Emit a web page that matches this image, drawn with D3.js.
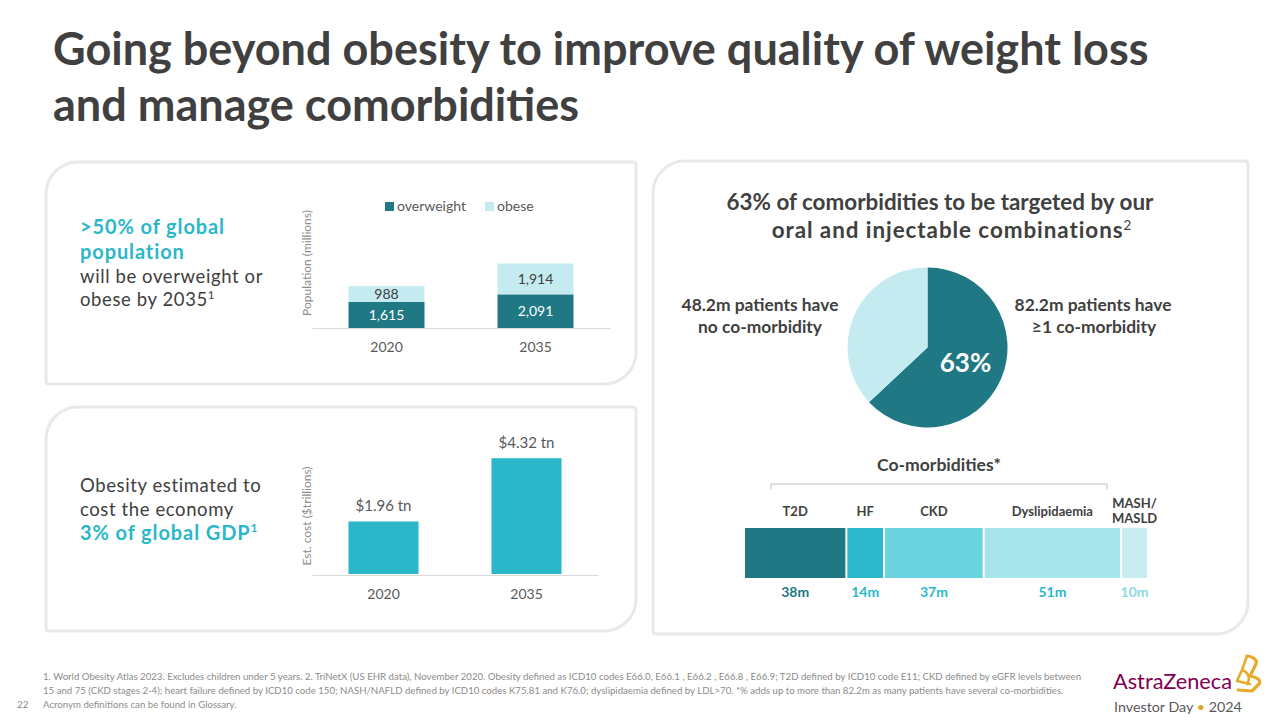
<!DOCTYPE html>
<html>
<head>
<meta charset="utf-8">
<script src="https://cdn.jsdelivr.net/npm/d3@7"></script>
<style>
  html, body { margin: 0; padding: 0; background: #ffffff; }
  svg { display: block; font-family: Lato, "Open Sans", sans-serif; }
</style>
</head>
<body>
<svg id="chart" width="1280" height="720"></svg>
<script>
// ---------------- DATA ----------------
const titleLines = ["Going beyond obesity to improve quality of weight loss", "and manage comorbidities"];

const popYears = ["2020", "2035"];
const popSeries = ["overweight", "obese"];
const overweightValues = [1615, 2091];
const obeseValues = [988, 1914];

const costYears = ["2020", "2035"];
const costValues = [1.96, 4.32];
const costLabels = ["$1.96 tn", "$4.32 tn"];

const pieCategories = [">=1 co-morbidity", "no co-morbidity"];
const pieValues = [82.2, 48.2];
const piePctLabel = "63%";

const comorbCategories = ["T2D", "HF", "CKD", "Dyslipidaemia", "MASH/MASLD"];
const comorbValues = [38, 14, 37, 51, 10];
const comorbValueLabels = ["38m", "14m", "37m", "51m", "10m"];

const footnotes = [
  "1. World Obesity Atlas 2023. Excludes children under 5 years. 2. TriNetX (US EHR data), November 2020. Obesity defined as ICD10 codes E66.0, E66.1 , E66.2 , E66.8 , E66.9; T2D defined by ICD10 code E11; CKD defined by eGFR levels between",
  "15 and 75 (CKD stages 2-4); heart failure defined by ICD10 code 150; NASH/NAFLD defined by ICD10 codes K75.81 and K76.0; dyslipidaemia defined by LDL>70. *% adds up to more than 82.2m as many patients have several co-morbidities.",
  "Acronym definitions can be found in Glossary."
];

// ---------------- STYLE ----------------
const C = {
  dark: "#404040",
  axis: "#595959",
  ytitle: "#8c8c8c",
  teal: "#2bb7c9",
  darkTeal: "#1f7883",
  lightTeal: "#c4ecf0",
  panelStroke: "#e9e9e9",
  segColors: ["#1f7883", "#2bb8ca", "#69d3df", "#a7e4eb", "#c8edf1"],
  segLabelColors: ["#1f7883", "#2bb8ca", "#2bb8ca", "#2bb8ca", "#8dd8e2"]
};

const svg = d3.select("#chart");

function fit(sel, target) {
  const n = sel.node();
  const fs = parseFloat(sel.attr("font-size"));
  const len = n.getComputedTextLength();
  const nf = fs * target / len;
  sel.attr("font-size", nf);
  return nf;
}
function spaceTo(sel, target) {
  const n = sel.node();
  const len = n.getComputedTextLength();
  const chars = sel.text().length;
  const ls = (target - len) / chars;
  sel.attr("letter-spacing", ls);
  return ls;
}

function panelPath(x, y, w, h, rb, rs) {
  return `M${x + rb},${y} H${x + w - rs} Q${x + w},${y} ${x + w},${y + rs} V${y + h - rb} ` +
    `A${rb},${rb} 0 0 1 ${x + w - rb},${y + h} H${x + rs} Q${x},${y + h} ${x},${y + h - rs} V${y + rb} ` +
    `A${rb},${rb} 0 0 1 ${x + rb},${y} Z`;
}

// ---------------- TITLE ----------------
const t1 = svg.append("text").attr("x", 53).attr("y", 65).attr("font-size", 40)
  .attr("font-weight", 700).attr("fill", C.dark).text(titleLines[0]);
const tfs = fit(t1, 1096);
svg.append("text").attr("x", 53).attr("y", 121).attr("font-size", tfs)
  .attr("font-weight", 700).attr("fill", C.dark).text(titleLines[1]);

// ---------------- PANELS ----------------
const panels = [
  { x: 46, y: 162, w: 590, h: 222 },
  { x: 46, y: 407, w: 590, h: 224 },
  { x: 653, y: 161, w: 595, h: 473 }
];
svg.selectAll("path.panel").data(panels).join("path").attr("class", "panel")
  .attr("d", d => panelPath(d.x, d.y, d.w, d.h, 32, 3))
  .attr("fill", "#fff").attr("stroke", C.panelStroke).attr("stroke-width", 3);

// ---------------- PANEL 1 TEXT ----------------
const bigFs = 20;
const regFs = 18.5;
const p1a = svg.append("text").attr("x", 80).attr("y", 234).attr("font-size", bigFs)
  .attr("font-weight", 700).attr("fill", C.teal).text(">50% of global");
const bigLs = spaceTo(p1a, 145);
svg.append("text").attr("x", 80).attr("y", 259).attr("font-size", bigFs).attr("letter-spacing", bigLs)
  .attr("font-weight", 700).attr("fill", C.teal).text("population");
const p1c = svg.append("text").attr("x", 80).attr("y", 283).attr("font-size", regFs)
  .attr("fill", C.dark).text("will be overweight or");
const regLs = spaceTo(p1c, 183);
const p1d = svg.append("text").attr("x", 80).attr("y", 306).attr("font-size", regFs)
  .attr("fill", C.dark).attr("letter-spacing", regLs);
p1d.append("tspan").text("obese by 2035");
p1d.append("tspan").attr("dy", -7).attr("font-size", regFs * 0.62).text("1");

// ---------------- PANEL 1 CHART ----------------
const x1 = d3.scaleBand().domain(popYears).range([312, 610]).paddingInner(0.49).paddingOuter(0.245);
const y1 = d3.scaleLinear().domain([0, 5000]).range([328, 247.5]);
const stackData = popYears.map((yr, i) => ({ year: yr, overweight: overweightValues[i], obese: obeseValues[i] }));
const stacks = d3.stack().keys(popSeries)(stackData);
const popColors = d3.scaleOrdinal().domain(popSeries).range([C.darkTeal, C.lightTeal]);

const g1 = svg.append("g");
g1.selectAll("g.layer").data(stacks).join("g").attr("class", "layer")
  .attr("fill", d => popColors(d.key))
  .selectAll("rect").data(d => d).join("rect")
  .attr("x", d => x1(d.data.year)).attr("width", x1.bandwidth())
  .attr("y", d => y1(d[1])).attr("height", d => y1(d[0]) - y1(d[1]));

g1.selectAll("g.lbl").data(stacks).join("g").attr("class", "lbl")
  .attr("fill", d => d.key === "overweight" ? "#ffffff" : C.dark)
  .selectAll("text").data(d => d).join("text")
  .attr("x", d => x1(d.data.year) + x1.bandwidth() / 2)
  .attr("y", d => (y1(d[0]) + y1(d[1])) / 2 + 5)
  .attr("text-anchor", "middle").attr("font-size", 14)
  .text(d => d3.format(",")(d[1] - d[0]));

const ax1 = g1.append("g").attr("transform", "translate(0,328)")
  .call(d3.axisBottom(x1).tickSize(0).tickPadding(14));
ax1.select(".domain").attr("stroke", "#d9d9d9").attr("stroke-width", 1);
ax1.selectAll("text").attr("font-size", 14).attr("fill", C.axis).attr("font-family", "Lato, sans-serif");

svg.append("text").attr("transform", "translate(311,263) rotate(-90)")
  .attr("text-anchor", "middle").attr("font-size", 12).attr("fill", C.ytitle)
  .text("Population (millions)");

// legend
const leg = svg.append("g").selectAll("g").data(popSeries).join("g")
  .attr("transform", (d, i) => `translate(${i === 0 ? 385 : 485},202)`);
leg.append("rect").attr("width", 9).attr("height", 9).attr("fill", d => popColors(d));
leg.append("text").attr("x", 12).attr("y", 9).attr("font-size", 14).attr("fill", C.axis).text(d => d);

// ---------------- PANEL 2 TEXT ----------------
svg.append("text").attr("x", 80).attr("y", 492).attr("font-size", regFs).attr("fill", C.dark)
  .attr("letter-spacing", regLs).text("Obesity estimated to");
svg.append("text").attr("x", 80).attr("y", 516).attr("font-size", regFs).attr("fill", C.dark)
  .attr("letter-spacing", regLs).text("cost the economy");
const p2c = svg.append("text").attr("x", 80).attr("y", 540).attr("font-size", bigFs)
  .attr("font-weight", 700).attr("fill", C.teal).attr("letter-spacing", bigLs);
p2c.append("tspan").text("3% of global GDP");
p2c.append("tspan").attr("dy", -8).attr("font-size", bigFs * 0.6).text("1");

// ---------------- PANEL 2 CHART ----------------
const x2 = d3.scaleBand().domain(costYears).range([312, 598]).paddingInner(0.51).paddingOuter(0.255);
const y2 = d3.scaleLinear().domain([0, 5]).range([574, 440]);
const g2 = svg.append("g");
g2.selectAll("rect").data(costValues).join("rect")
  .attr("x", (d, i) => x2(costYears[i])).attr("width", x2.bandwidth())
  .attr("y", d => y2(d)).attr("height", d => y2(0) - y2(d)).attr("fill", C.teal);
g2.selectAll("text.val").data(costValues).join("text").attr("class", "val")
  .attr("x", (d, i) => x2(costYears[i]) + x2.bandwidth() / 2)
  .attr("y", d => y2(d) - 10).attr("text-anchor", "middle")
  .attr("font-size", 15).attr("fill", C.axis).text((d, i) => costLabels[i]);
const ax2 = g2.append("g").attr("transform", "translate(0,575)")
  .call(d3.axisBottom(x2).tickSize(0).tickPadding(14));
ax2.select(".domain").attr("stroke", "#d9d9d9").attr("stroke-width", 1);
ax2.selectAll("text").attr("font-size", 14).attr("fill", C.axis).attr("font-family", "Lato, sans-serif");
svg.append("text").attr("transform", "translate(311,516) rotate(-90)")
  .attr("text-anchor", "middle").attr("font-size", 12).attr("fill", C.ytitle)
  .text("Est. cost ($trillions)");

// ---------------- PANEL 3 ----------------
const h3a = svg.append("text").attr("x", 940).attr("y", 210).attr("text-anchor", "middle")
  .attr("font-size", 21).attr("font-weight", 700).attr("fill", C.dark)
  .text("63% of comorbidities to be targeted by our");
const h3fs = fit(h3a, 427);
const h3b = svg.append("text").attr("x", 952).attr("y", 238).attr("text-anchor", "middle")
  .attr("font-size", h3fs).attr("font-weight", 700).attr("fill", C.dark);
h3b.append("tspan").text("oral and injectable combinations");
h3b.append("tspan").attr("dy", -8).attr("font-size", h3fs * 0.6).attr("font-weight", 400).text("2");
h3b.attr("letter-spacing", Math.max(0, (361 - h3b.node().getComputedTextLength()) / 33));

// pie
const pie = d3.pie().sort(null).value(d => d)(pieValues);
const arc = d3.arc().innerRadius(0).outerRadius(80);
const pieG = svg.append("g").attr("transform", "translate(927.5,347.5)");
pieG.selectAll("path").data(pie).join("path").attr("d", arc)
  .attr("fill", (d, i) => i === 0 ? C.darkTeal : C.lightTeal);
pieG.append("text").attr("x", 38).attr("y", 24).attr("text-anchor", "middle")
  .attr("font-size", 26).attr("font-weight", 700).attr("fill", "#fff").text(piePctLabel);

const pl1 = svg.append("text").attr("x", 760).attr("y", 311).attr("text-anchor", "middle")
  .attr("font-size", 16).attr("font-weight", 700).attr("fill", C.dark).text("48.2m patients have");
const plfs = fit(pl1, 157);
svg.append("text").attr("x", 760).attr("y", 333).attr("text-anchor", "middle")
  .attr("font-size", plfs).attr("font-weight", 700).attr("fill", C.dark).text("no co-morbidity");
svg.append("text").attr("x", 1093).attr("y", 311).attr("text-anchor", "middle")
  .attr("font-size", plfs).attr("font-weight", 700).attr("fill", C.dark).text("82.2m patients have");
svg.append("text").attr("x", 1094).attr("y", 333).attr("text-anchor", "middle")
  .attr("font-size", plfs).attr("font-weight", 700).attr("fill", C.dark).text("\u22651 co-morbidity");

// co-morbidities
const cm = svg.append("text").attr("x", 939).attr("y", 471).attr("text-anchor", "middle")
  .attr("font-size", 16).attr("font-weight", 700).attr("fill", C.dark).text("Co-morbidities*");
fit(cm, 124);
svg.append("path").attr("d", "M771,489 V484 H1107 V489").attr("fill", "none")
  .attr("stroke", "#bfbfbf").attr("stroke-width", 1);

const xs = d3.scaleLinear().domain([0, d3.sum(comorbValues)]).range([745, 1149]);
let cum = 0;
const segs = comorbValues.map((v, i) => { const s = { cat: comorbCategories[i], v, start: cum, end: cum + v, i }; cum += v; return s; });
const sg = svg.append("g");
sg.selectAll("rect").data(segs).join("rect")
  .attr("x", d => xs(d.start)).attr("width", d => xs(d.end) - xs(d.start) - 2)
  .attr("y", 528).attr("height", 50).attr("fill", d => C.segColors[d.i]);
sg.selectAll("text.cat").data(segs).join("text").attr("class", "cat")
  .attr("text-anchor", "middle").attr("font-size", 13).attr("font-weight", 700).attr("fill", C.dark)
  .each(function (d) {
    const cx = (xs(d.start) + xs(d.end) - 2) / 2;
    const parts = d.cat === "MASH/MASLD" ? ["MASH/", "MASLD"] : [d.cat];
    const t = d3.select(this);
    parts.forEach((p, k) => {
      t.append("tspan").attr("x", cx).attr("y", parts.length > 1 ? 508 + k * 15 : 516).text(p);
    });
  });
sg.selectAll("text.val").data(segs).join("text").attr("class", "val")
  .attr("x", d => (xs(d.start) + xs(d.end) - 2) / 2).attr("y", 597)
  .attr("text-anchor", "middle").attr("font-size", 14).attr("font-weight", 700)
  .attr("fill", d => C.segLabelColors[d.i]).text(d => comorbValueLabels[d.i]);

// ---------------- FOOTNOTES ----------------
const f0 = svg.append("text").attr("x", 43).attr("y", 680).attr("font-size", 9)
  .attr("fill", "#8c8c8c").text(footnotes[0]);
const ffs = fit(f0, 1040);
svg.append("text").attr("x", 43).attr("y", 694).attr("font-size", ffs).attr("fill", "#8c8c8c").text(footnotes[1]);
svg.append("text").attr("x", 43).attr("y", 708).attr("font-size", ffs).attr("fill", "#8c8c8c").text(footnotes[2]);
svg.append("text").attr("x", 17).attr("y", 708).attr("font-size", 10).attr("fill", "#8c8c8c").text("22");

// ---------------- LOGO ----------------
const az = svg.append("text").attr("x", 1113).attr("y", 689).attr("font-size", 24)
  .attr("fill", "#830051").text("AstraZeneca");
fit(az, 119);
const inv = svg.append("text").attr("x", 1114).attr("y", 712).attr("font-size", 15).attr("fill", "#595959");
inv.append("tspan").text("Investor Day ");
inv.append("tspan").attr("fill", "#e0a526").text("\u2022");
inv.append("tspan").text(" 2024");
fit(inv, 128);
const logo = svg.append("g").attr("fill", "none").attr("stroke", "#e7ab2b")
  .attr("stroke-linejoin", "round").attr("stroke-linecap", "round");
logo.append("path").attr("d", "M1247,656 C1252,656 1258,660 1256,664 L1250,676 C1256,677 1262,680 1259,684 L1252,691 L1238,690")
  .attr("stroke-width", 3.2);
logo.append("path").attr("d", "M1247,656 L1242,670 C1248,672 1251,678 1247,684 M1242,670 L1237,681 L1250,684")
  .attr("stroke-width", 2.6);
</script>
</body>
</html>
